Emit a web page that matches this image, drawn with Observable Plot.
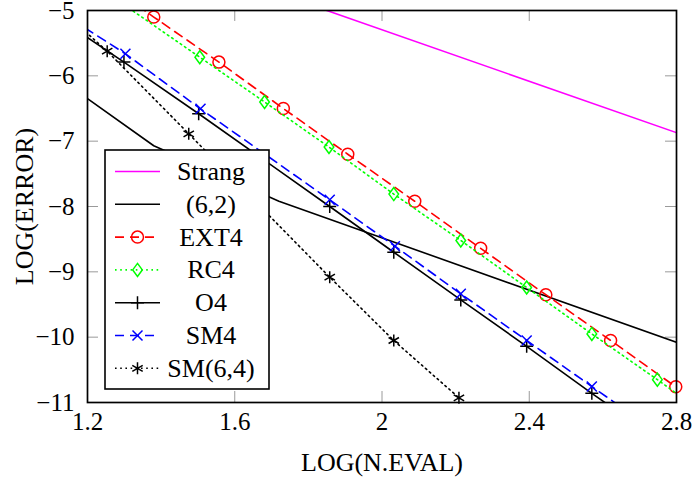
<!DOCTYPE html>
<html>
<head>
<meta charset="utf-8">
<script src="https://cdn.jsdelivr.net/npm/d3@7"></script>
<script src="https://cdn.jsdelivr.net/npm/@observablehq/plot@0.6"></script>
<style>
  body { margin: 0; background: #fff; }
</style>
</head>
<body>
<div id="chart"></div>
<script>
// Axis ticks
const xTicks = [1.2, 1.6, 2, 2.4, 2.8];
const yTicks = [-5, -6, -7, -8, -9, -10, -11];

// log10(number of evaluations) vs log10(error), one pair of arrays per method
const strangX = [1.2, 2.8];
const strangY = [-3.72, -6.87];

const s62X = [1.2, 1.38, 1.72, 2.8];
const s62Y = [-6.35, -7.07, -7.92, -10.08];

const ext4X = [1.203, 1.380, 1.557, 1.732, 1.907, 2.089, 2.268, 2.445, 2.621, 2.798];
const ext4Y = [-4.40, -5.10, -5.79, -6.50, -7.20, -7.92, -8.64, -9.35, -10.05, -10.76];

const rc4X = [1.15, 1.505, 1.681, 1.856, 2.032, 2.214, 2.393, 2.570, 2.748, 2.925];
const rc4Y = [-4.33, -5.715, -6.40, -7.09, -7.81, -8.52, -9.24, -9.95, -10.65, -11.37];

const o4X = [1.12, 1.299, 1.502, 1.858, 2.032, 2.214, 2.393, 2.570, 2.75];
const o4Y = [-5.11, -5.79, -6.58, -8.00, -8.70, -9.43, -10.14, -10.86, -11.57];

const sm4X = [1.125, 1.303, 1.507, 1.858, 2.035, 2.214, 2.393, 2.570, 2.75];
const sm4Y = [-5.02, -5.663, -6.505, -7.898, -8.608, -9.336, -10.051, -10.755, -11.47];

const sm64X = [1.10, 1.2535, 1.475, 1.858, 2.032, 2.209];
const sm64Y = [-4.85, -5.623, -6.887, -9.082, -10.051, -10.928];

// Marker shapes (fixed pixel geometry)
const symCircle = { draw(c) { c.moveTo(6, 0); c.arc(0, 0, 6, 0, 2 * Math.PI); } };
const symDiamond = { draw(c) { c.moveTo(0, -6.5); c.lineTo(4.8, 0); c.lineTo(0, 6.5); c.lineTo(-4.8, 0); c.closePath(); } };
const symPlus = { draw(c) { c.moveTo(-6.5, 0); c.lineTo(6.5, 0); c.moveTo(0, -6.5); c.lineTo(0, 6.5); } };
const symTimes = { draw(c) { c.moveTo(-5, -5); c.lineTo(5, 5); c.moveTo(-5, 5); c.lineTo(5, -5); } };
const symAsterisk = { draw(c) {
  c.moveTo(0, -6); c.lineTo(0, 6);
  c.moveTo(-5.2, -3); c.lineTo(5.2, 3);
  c.moveTo(-5.2, 3); c.lineTo(5.2, -3);
} };

const series = [
  { name: "Strang",  xs: strangX, ys: strangY, color: "#ff00ff", dash: null,      symbol: null },
  { name: "(6,2)",   xs: s62X,    ys: s62Y,    color: "#000000", dash: null,      symbol: null },
  { name: "EXT4",    xs: ext4X,   ys: ext4Y,   color: "#ff0000", dash: "9,6",     symbol: symCircle },
  { name: "RC4",     xs: rc4X,    ys: rc4Y,    color: "#00ff00", dash: "1.6,3.6", symbol: symDiamond },
  { name: "O4",      xs: o4X,     ys: o4Y,     color: "#000000", dash: null,      symbol: symPlus },
  { name: "SM4",     xs: sm4X,    ys: sm4Y,    color: "#0000ff", dash: "9,6",     symbol: symTimes },
  { name: "SM(6,4)", xs: sm64X,   ys: sm64Y,   color: "#000000", dash: "1.6,3.6", symbol: symAsterisk }
];

const fmt = d => String(d).replace("-", "\u2212");
const inDomain = d => d.x >= 1.2 - 1e-9 && d.x <= 2.8 + 1e-9 && d.y >= -11 - 1e-9 && d.y <= -5 + 1e-9;

const W = 695, H = 480, ML = 87, MR = 19, MT = 10, MB = 78;
const frameW = W - ML - MR, frameH = H - MT - MB, tickLen = 11;

const marks = [
  Plot.axisX(xTicks, { tickSize: 0, tickPadding: 10, tickFormat: fmt, label: null, fontSize: 25 }),
  Plot.axisY(yTicks, { tickSize: 0, tickPadding: 13, tickFormat: fmt, label: null, fontSize: 25 }),
  // inward ticks on all four sides
  Plot.tickX(xTicks, { x: d => d, stroke: "#9a9a9a", strokeWidth: 1, insetTop: frameH - tickLen }),
  Plot.tickX(xTicks, { x: d => d, stroke: "#9a9a9a", strokeWidth: 1, insetBottom: frameH - tickLen }),
  Plot.tickY(yTicks, { y: d => d, stroke: "#9a9a9a", strokeWidth: 1, insetRight: frameW - tickLen }),
  Plot.tickY(yTicks, { y: d => d, stroke: "#9a9a9a", strokeWidth: 1, insetLeft: frameW - tickLen })
];

for (const s of series) {
  const rows = s.xs.map((x, i) => ({ x, y: s.ys[i] }));
  marks.push(Plot.line(rows, {
    x: "x", y: "y", stroke: s.color, strokeWidth: 1.6,
    strokeDasharray: s.dash || undefined, clip: true
  }));
  if (s.symbol) {
    marks.push(Plot.dot(rows.filter(inDomain), {
      x: "x", y: "y", symbol: s.symbol, fill: "none", stroke: s.color, strokeWidth: 1.5, r: 6
    }));
  }
}

marks.push(
  Plot.frame({ stroke: "black", strokeWidth: 1.7 }),
  Plot.text(["LOG(N.EVAL)"], { frameAnchor: "bottom", dy: 60, lineAnchor: "middle", fontSize: 26, text: d => d }),
  Plot.text(["LOG(ERROR)"], { frameAnchor: "left", dx: -63, rotate: -90, lineAnchor: "middle", textAnchor: "middle", fontSize: 26, text: d => d })
);

const svg = Plot.plot({
  width: W, height: H,
  marginLeft: ML, marginRight: MR, marginTop: MT, marginBottom: MB,
  x: { domain: [1.2, 2.8], label: null },
  y: { domain: [-11, -5], label: null },
  style: { fontFamily: "'Liberation Serif', 'Times New Roman', serif", fontSize: "25px", background: "white", overflow: "visible", color: "black" },
  marks
});

// Legend box inside the plot area
const lg = d3.select(svg).append("g").attr("class", "legend");
const box = { x: 105, y: 150, w: 164, h: 239 };
lg.append("rect")
  .attr("x", box.x).attr("y", box.y).attr("width", box.w).attr("height", box.h)
  .attr("fill", "white").attr("stroke", "black").attr("stroke-width", 1.6);
const rowY0 = 171.5, rowStep = 32.8, sampleX1 = 115, sampleX2 = 160, labelX = 211;
series.forEach((s, i) => {
  const y = rowY0 + i * rowStep;
  lg.append("line")
    .attr("x1", sampleX1).attr("x2", sampleX2).attr("y1", y).attr("y2", y)
    .attr("stroke", s.color).attr("stroke-width", 1.6)
    .attr("stroke-dasharray", s.dash);
  if (s.symbol) {
    const p = d3.path();
    s.symbol.draw(p, 0);
    lg.append("path")
      .attr("d", p.toString())
      .attr("transform", `translate(${(sampleX1 + sampleX2) / 2},${y})`)
      .attr("fill", "none").attr("stroke", s.color).attr("stroke-width", 1.5);
  }
  lg.append("text")
    .attr("x", labelX).attr("y", y).attr("dy", "0.33em")
    .attr("text-anchor", "middle")
    .attr("font-size", 26)
    .attr("fill", "black")
    .text(s.name);
});

document.getElementById("chart").appendChild(svg);
</script>
</body>
</html>
